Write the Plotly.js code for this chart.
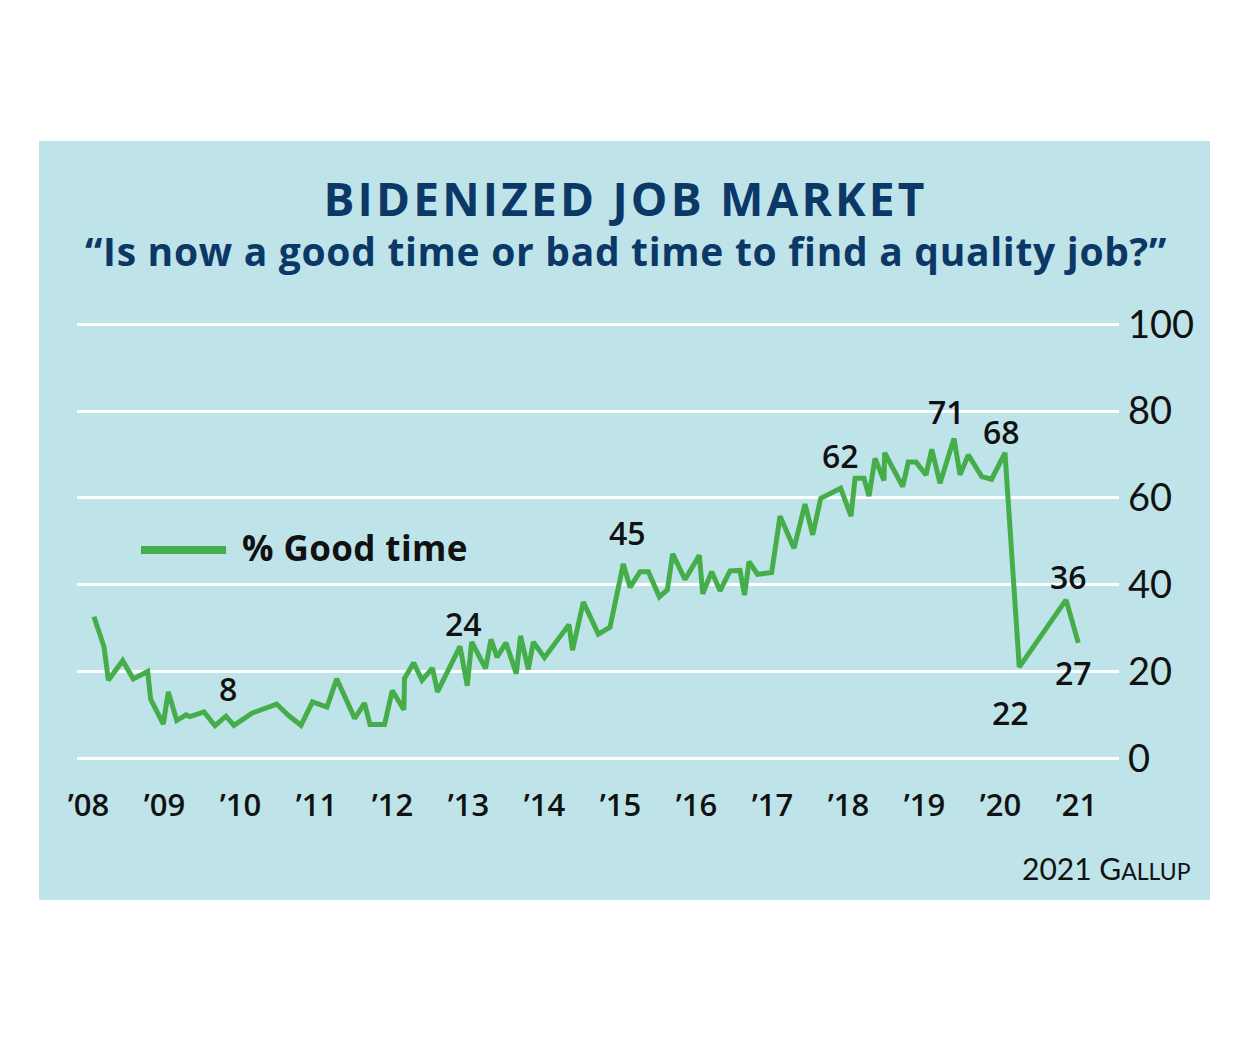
<!DOCTYPE html>
<html>
<head>
<meta charset="utf-8">
<script src="https://cdn.plot.ly/plotly-3.0.1.min.js"></script>
<style>
  html, body { margin: 0; padding: 0; background: #ffffff; }
  #chart { width: 1250px; height: 1042px; }
</style>
</head>
<body>
<div id="chart"></div>
<script>
// ---- Data ----
const years = [
  2008.072, 2008.204, 2008.261, 2008.450, 2008.589, 2008.779, 2008.818, 2008.984,
  2009.050, 2009.161, 2009.283, 2009.336, 2009.520, 2009.664, 2009.809, 2009.914,
  2010.151, 2010.476, 2010.629, 2010.796, 2010.947, 2011.138, 2011.266, 2011.503,
  2011.632, 2011.704, 2011.895, 2011.997, 2012.150, 2012.158, 2012.279, 2012.388,
  2012.526, 2012.592, 2012.888, 2012.984, 2013.042, 2013.224, 2013.296, 2013.375,
  2013.493, 2013.629, 2013.684, 2013.787, 2013.853, 2014.000, 2014.322, 2014.368,
  2014.511, 2014.708, 2014.862, 2015.037, 2015.125, 2015.257, 2015.366, 2015.511,
  2015.616, 2015.687, 2015.849, 2016.037, 2016.082, 2016.200, 2016.309, 2016.441,
  2016.572, 2016.632, 2016.691, 2016.803, 2016.989, 2017.099, 2017.283, 2017.428,
  2017.529, 2017.634, 2017.897, 2018.033, 2018.086, 2018.204, 2018.270, 2018.349,
  2018.467, 2018.475, 2018.713, 2018.787, 2018.888, 2019.020, 2019.095, 2019.204,
  2019.388, 2019.467, 2019.576, 2019.753, 2019.884, 2020.059, 2020.247, 2020.862,
  2021.024
];
const goodTime = [
  32.6, 25.7, 18.0, 22.5, 18.3, 20.0, 13.6, 7.9,
  15.3, 8.7, 10.0, 9.6, 10.7, 7.5, 9.7, 7.6,
  10.4, 12.5, 9.9, 7.6, 13.0, 11.8, 18.3, 9.2,
  12.7, 7.8, 7.8, 15.6, 11.2, 18.4, 22.0, 18.0,
  20.8, 15.3, 25.8, 16.7, 26.8, 20.7, 27.4, 23.3,
  26.6, 19.5, 28.2, 20.5, 26.8, 23.2, 30.8, 24.9,
  36.0, 28.6, 30.2, 44.8, 39.4, 43.0, 43.0, 37.2,
  38.8, 47.1, 41.2, 46.8, 37.9, 43.0, 38.6, 43.2,
  43.3, 37.6, 45.3, 42.4, 42.8, 55.8, 48.4, 58.6,
  51.5, 59.9, 62.2, 55.8, 64.5, 64.5, 60.4, 69.1,
  64.0, 70.4, 62.6, 68.3, 68.3, 65.3, 71.2, 63.4,
  73.7, 65.3, 69.9, 64.9, 64.3, 70.4, 21.0, 36.5,
  26.6
];
const seriesName = '% Good time';
const tickYears = [2008, 2009, 2010, 2011, 2012, 2013, 2014, 2015, 2016, 2017, 2018, 2019, 2020, 2021];
const tickLabels = ['\u201908', '\u201909', '\u201910', '\u201911', '\u201912', '\u201913', '\u201914',
                    '\u201915', '\u201916', '\u201917', '\u201918', '\u201919', '\u201920', '\u201921'];
const yTicks = [0, 20, 40, 60, 80, 100];
const pointLabels = ['8', '24', '45', '62', '71', '68', '22', '36', '27'];

// ---- Label anchor positions (data coordinates) ----
const labelX = [2009.836, 2012.928, 2015.086, 2017.901, 2019.283, 2020.007, 2020.138, 2020.901, 2020.954];
const labelY = [16.0, 31.0, 52.0, 69.7, 79.8, 75.2, 10.5, 41.8, 19.7];

// ---- Layout geometry helpers (pixel -> paper) ----
const W = 1250, H = 1042;
const M = { l: 77, r: 131, t: 302, b: 262 };
const plotW = W - M.l - M.r, plotH = H - M.t - M.b;
const px = x => (x - M.l) / plotW;
const py = y => (H - M.b - y) / plotH;

const HEAD = '"Open Sans", Lato, "DejaVu Sans", sans-serif';
const BODY = 'Lato, "Open Sans", "DejaVu Sans", sans-serif';
const NAVY = '#0b3866';
const GREEN = '#45ae4a';

const annotations = pointLabels.map((t, i) => ({
  text: t, x: labelX[i], y: labelY[i], xref: 'x', yref: 'y',
  xanchor: 'center', yanchor: 'middle', showarrow: false,
  font: { family: HEAD, size: 32, color: '#111111', weight: 600 }
}));

annotations.push({
  text: '<span style="letter-spacing:0.7px">\u201CIs now a good time or bad time to find a quality job?\u201D</span>',
  xref: 'paper', yref: 'paper', x: px(626), y: py(250),
  xanchor: 'center', yanchor: 'middle', showarrow: false,
  font: { family: HEAD, size: 39, color: NAVY, weight: 700 }
});
annotations.push({
  text: '<span style="letter-spacing:0.4px">' + seriesName + '</span>',
  xref: 'paper', yref: 'paper', x: px(240), y: py(547),
  xanchor: 'left', yanchor: 'middle', showarrow: false,
  font: { family: HEAD, size: 35, color: '#111111', weight: 700 }
});
annotations.push({
  text: '2021 G<span style="font-size:23px">ALLUP</span>',
  xref: 'paper', yref: 'paper', x: px(1193), y: py(868),
  xanchor: 'right', yanchor: 'middle', showarrow: false,
  font: { family: BODY, size: 30, color: '#111111' }
});

const shapes = [
  { type: 'rect', xref: 'paper', yref: 'paper', layer: 'below',
    x0: px(39), x1: px(1210), y0: py(900), y1: py(141),
    fillcolor: '#bee4e9', line: { width: 0 } },
  { type: 'line', xref: 'paper', yref: 'paper',
    x0: px(141), x1: px(226), y0: py(550), y1: py(550),
    line: { color: GREEN, width: 8 } }
];

const trace = {
  type: 'scatter', mode: 'lines', name: seriesName,
  x: years, y: goodTime,
  line: { color: GREEN, width: 5, shape: 'linear' },
  hoverinfo: 'x+y', showlegend: false
};

const layout = {
  width: W, height: H,
  margin: M,
  paper_bgcolor: '#ffffff',
  plot_bgcolor: 'rgba(0,0,0,0)',
  showlegend: false,
  title: {
    text: '<span style="letter-spacing:3.2px">BIDENIZED JOB MARKET</span>',
    x: 625.5 / W, xref: 'container', xanchor: 'center',
    y: 1 - 200 / H, yref: 'container', yanchor: 'middle',
    font: { family: HEAD, size: 46, color: NAVY, weight: 700 }
  },
  xaxis: {
    range: [2008 - 11.5 / 76, 2008 + 1030.5 / 76],
    tickmode: 'array', tickvals: tickYears, ticktext: tickLabels,
    showgrid: false, zeroline: false, showline: false, ticks: '',
    ticklabelstandoff: 4,
    tickfont: { family: HEAD, size: 31, color: '#111111', weight: 600 },
    fixedrange: true
  },
  yaxis: {
    side: 'right',
    range: [-5, -5 + plotH / 4.34],
    tickmode: 'array', tickvals: yTicks,
    showgrid: true, gridcolor: '#ffffff', gridwidth: 3,
    zeroline: false, showline: false, ticks: '',
    ticklabelstandoff: 8,
    tickfont: { family: BODY, size: 38, color: '#111111' },
    fixedrange: true
  },
  annotations: annotations,
  shapes: shapes
};

Plotly.newPlot('chart', [trace], layout, { displayModeBar: false });
</script>
</body>
</html>
